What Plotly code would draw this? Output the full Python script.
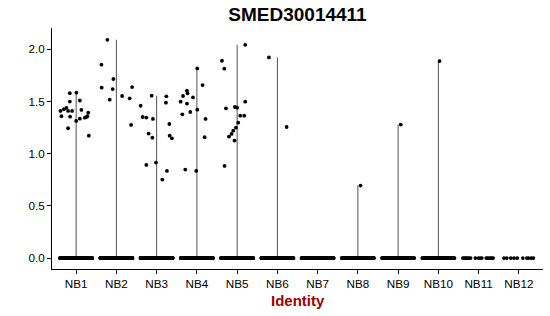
import numpy as np
import plotly.graph_objects as go

categories = ["NB1", "NB2", "NB3", "NB4", "NB5", "NB6", "NB7", "NB8", "NB9", "NB10", "NB11", "NB12"]

# non-zero expression values per group and their jitter offsets
nb1_vals = [1.41, 1.36, 1.426, 1.44, 1.41, 1.58, 1.50, 1.355, 1.244, 1.41, 1.585, 1.314, 1.51, 1.42, 1.336, 1.345, 1.352, 1.393, 1.36, 1.173]
nb1_jit = [-0.39, -0.365, -0.305, -0.24, -0.2, -0.157, -0.157, -0.15, -0.2, -0.1, 0.007, 0.0, 0.092, 0.13, 0.092, 0.216, 0.256, 0.3, 0.28, 0.315]
nb2_vals = [2.092, 1.853, 1.716, 1.633, 1.62, 1.518, 1.553, 1.531, 1.639, 1.276]
nb2_jit = [-0.223, -0.372, -0.074, -0.365, -0.092, -0.166, 0.141, 0.33, 0.39, 0.365]
nb3_vals = [1.46, 1.352, 1.346, 1.333, 1.193, 1.154, 1.556, 1.55, 1.489, 1.285, 1.173, 1.148, 0.893, 0.915, 0.835, 0.752]
nb3_jit = [-0.397, -0.347, -0.256, -0.092, -0.199, -0.107, -0.124, 0.241, 0.231, 0.315, 0.323, 0.38, -0.256, -0.017, 0.256, 0.141]
nb4_vals = [1.818, 1.658, 1.604, 1.579, 1.553, 1.54, 1.499, 1.48, 1.422, 1.40, 1.378, 1.333, 1.158, 0.848, 0.835]
nb4_jit = [0.01, 0.141, -0.246, -0.231, -0.345, -0.097, -0.404, -0.246, 0.01, -0.164, -0.362, 0.216, 0.191, -0.288, -0.015]
nb5_vals = [2.044, 1.891, 1.815, 1.499, 1.435, 1.448, 1.441, 1.365, 1.365, 1.298, 1.25, 1.221, 1.19, 1.164, 1.126, 0.883]
nb5_jit = [0.201, -0.377, -0.32, 0.201, -0.278, -0.055, 0.002, 0.077, 0.176, 0.027, -0.03, -0.097, -0.139, -0.203, -0.065, -0.313]
nb6_vals = [1.923, 1.256]
nb6_jit = [-0.21, 0.23]
nb7_vals = []
nb7_jit = []
nb8_vals = [0.695]
nb8_jit = [0.066]
nb9_vals = [1.279]
nb9_jit = [0.066]
nb10_vals = [1.888]
nb10_jit = [0.03]
nb11_vals = []
nb11_jit = []
nb12_vals = []
nb12_jit = []

# number of cells with zero expression per group
zero_counts = [300, 300, 300, 300, 300, 160, 160, 160, 110, 70, 0, 0]
# sparse groups: explicit jitter offsets of zero-valued cells
nb11_zero_jit = [-0.39, -0.36, -0.33, -0.3, -0.27, -0.24, -0.2, -0.08, 0.0, 0.04, 0.08, 0.19, 0.22, 0.26, 0.3, 0.33, 0.36]
nb12_zero_jit = [-0.37, -0.3, -0.2, -0.12, -0.04, 0.1, 0.2, 0.24, 0.31, 0.36]

nz_vals = [nb1_vals, nb2_vals, nb3_vals, nb4_vals, nb5_vals, nb6_vals, nb7_vals, nb8_vals, nb9_vals, nb10_vals, nb11_vals, nb12_vals]
nz_jit = [nb1_jit, nb2_jit, nb3_jit, nb4_jit, nb5_jit, nb6_jit, nb7_jit, nb8_jit, nb9_jit, nb10_jit, nb11_jit, nb12_jit]

fig = go.Figure()

# violins (degenerate -> vertical lines from 0 to group max)
for i, vals in enumerate(nz_vals):
    pos = i + 1
    if len(vals) > 0:
        vmax = max(vals)
        fig.add_trace(go.Scatter(x=[pos, pos], y=[0, vmax], mode="lines",
                                 line=dict(color="#505050", width=1), hoverinfo="skip", showlegend=False))

# jittered points
for i, (vals, jit) in enumerate(zip(nz_vals, nz_jit)):
    pos = i + 1
    if i == 10:
        zj = nb11_zero_jit
    elif i == 11:
        zj = nb12_zero_jit
    else:
        zj = list(np.linspace(-0.4, 0.4, zero_counts[i]))
    xs = [pos + j for j in zj] + [pos + j for j in jit]
    ys = [0.0] * len(zj) + list(vals)
    fig.add_trace(go.Scatter(x=xs, y=ys, mode="markers",
                             marker=dict(color="black", size=3.8, line=dict(width=0)),
                             hoverinfo="skip", showlegend=False))

font = "Liberation Sans, Arial, sans-serif"

fig.update_layout(
    width=550, height=316,
    margin=dict(l=52, r=7, t=28, b=47),
    plot_bgcolor="white", paper_bgcolor="white",
    title=dict(text="<b>SMED30014411</b>", x=0.5, xref="paper", xanchor="center",
               y=1 - 14.5 / 316, yref="container", yanchor="middle",
               font=dict(family=font, size=19, color="black")),
    xaxis=dict(range=[0.4, 12.6], tickmode="array", tickvals=list(range(1, 13)), ticktext=categories,
               showline=True, linecolor="black", linewidth=1, ticks="outside", ticklen=4,
               tickcolor="black", showgrid=False, zeroline=False,
               tickfont=dict(family=font, size=11.7, color="black")),
    yaxis=dict(range=[-0.105, 2.205], tickmode="array", tickvals=[0, 0.5, 1.0, 1.5, 2.0],
               ticktext=["0.0", "0.5", "1.0", "1.5", "2.0"],
               showline=True, linecolor="black", linewidth=1, ticks="outside", ticklen=4,
               tickcolor="black", showgrid=False, zeroline=False,
               tickfont=dict(family=font, size=11.7, color="black")),
    annotations=[dict(text="<b>Identity</b>", x=0.5, xref="paper", y=0, yref="paper",
                      xanchor="center", yanchor="middle", yshift=-31, showarrow=False,
                      borderpad=0,
                      font=dict(family=font, size=15, color="#9B0000"))],
)

fig.write_html("out.html")
